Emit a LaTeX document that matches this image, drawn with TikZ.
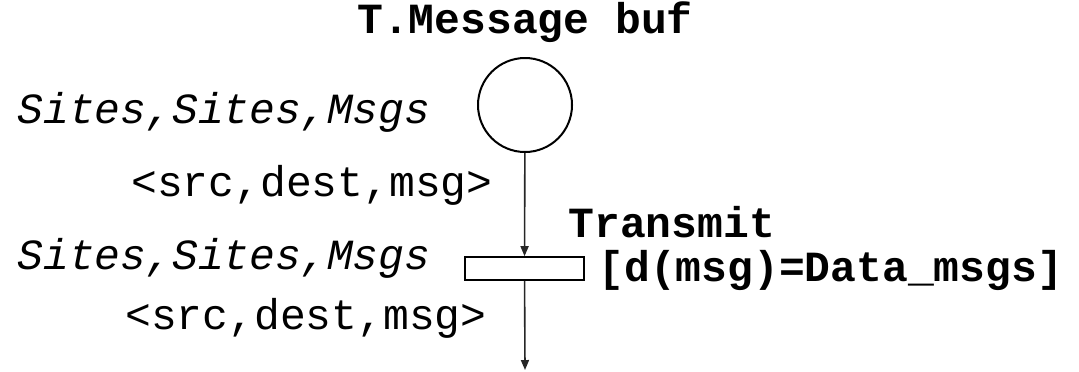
\documentclass[tikz,border=0pt]{standalone}
\usepackage{fontspec}
\setmonofont{Liberation Mono}
\usetikzlibrary{arrows.meta,positioning}

\tikzset{
  place/.style={draw,circle,line width=1pt,minimum size=47pt,inner sep=0pt},
  transbox/.style={draw,rectangle,line width=0.8pt,minimum width=59.5pt,minimum height=11.5pt,inner sep=0pt},
  arc/.style={-{Triangle[length=5pt,width=4pt]},line width=0.8pt,black!85},
  lbl/.style={font=\fontsize{21.5}{24}\selectfont\ttfamily,inner sep=0pt},
  typ/.style={lbl,font=\fontsize{21.5}{24}\selectfont\ttfamily\itshape},
  nm/.style={lbl,font=\fontsize{21.5}{24}\selectfont\ttfamily\bfseries},
}

\begin{document}
\begin{tikzpicture}[x=0.5pt,y=-0.5pt]
\useasboundingbox (0,0) rectangle (1079,371);
\node[place] (buf) at (525,105) {};
\node[nm] (bufname) at (525,22) {T.Message buf};
\node[typ,anchor=west] (buftype) at (17,112) {Sites,Sites,Msgs};
\node[transbox] (tr) at (524.5,268.5) {};
\node[nm,anchor=west] (trname) at (568,222) {Transmit};
\node[nm,anchor=west] (guard) at (598,270) {[d(msg)=Data\_msgs]};
\node[typ,anchor=west] (trtype) at (17,258) {Sites,Sites,Msgs};
\node[lbl,anchor=east] (inexp) at (493,185) {<src,dest,msg>};
\node[lbl,anchor=east] (outexp) at (487,318) {<src,dest,msg>};
\coordinate (out) at (525,370);
\draw[arc] (buf) -- (tr);
\draw[arc] (tr) -- (out);
\end{tikzpicture}
\end{document}
